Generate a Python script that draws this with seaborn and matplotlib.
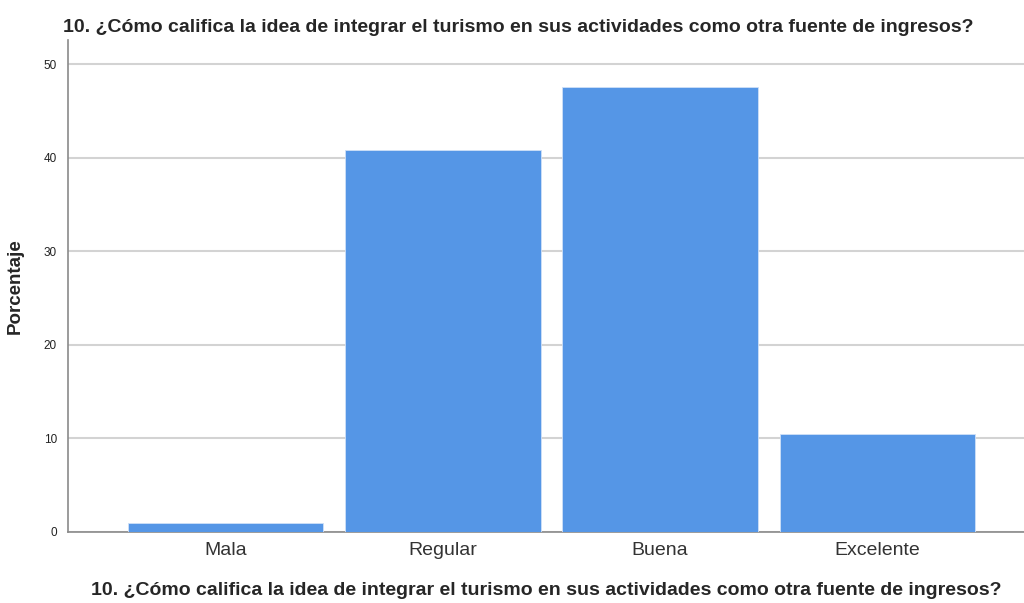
import matplotlib
matplotlib.use("Agg")
import matplotlib.pyplot as plt
import seaborn as sns
import pandas as pd

# Data
categorias = ["Mala", "Regular", "Buena", "Excelente"]
porcentajes = [1.0, 40.8, 47.6, 10.5]
yticks = [0, 10, 20, 30, 40, 50]
titulo = "10. ¿Cómo califica la idea de integrar el turismo en sus actividades como otra fuente de ingresos?"

sns.set_theme(style="white")
plt.rcParams["font.family"] = ["Liberation Sans", "DejaVu Sans"]

df = pd.DataFrame({"categoria": categorias, "porcentaje": porcentajes})

fig = plt.figure(figsize=(10.24, 6.03), dpi=100)
ax = fig.add_axes([68 / 1024, 1 - 532 / 603, (1024 - 68) / 1024, (532 - 40) / 603])

sns.barplot(data=df, x="categoria", y="porcentaje", color="#5596e6", saturation=1,
            width=0.9, edgecolor="#cfe0f7", linewidth=0.6, ax=ax, zorder=3)

ax.set_xlim(-0.724, 3.674)
ax.set_ylim(0, 52.6)
ax.set_yticks(yticks)
ax.yaxis.grid(True, color="#d3d3d3", linewidth=1.5, zorder=0)
ax.set_axisbelow(True)

for side in ["top", "right"]:
    ax.spines[side].set_visible(False)
for side in ["left", "bottom"]:
    ax.spines[side].set_color("#8a8a8a")
    ax.spines[side].set_linewidth(1.2)

ax.tick_params(axis="y", labelsize=8.5, colors="#222222", length=0, pad=8)
ax.tick_params(axis="x", labelsize=14, colors="#333333", length=0, pad=7)

ax.set_ylabel("Porcentaje", fontsize=13.5, fontweight="bold", labelpad=14)
ax.set_xlabel(titulo, fontsize=14, fontweight="bold", labelpad=17)
fig.text(63 / 1024, 1 - 27 / 603, titulo, fontsize=14, fontweight="bold",
         ha="left", va="center")

fig.savefig("out.png", dpi=100)
